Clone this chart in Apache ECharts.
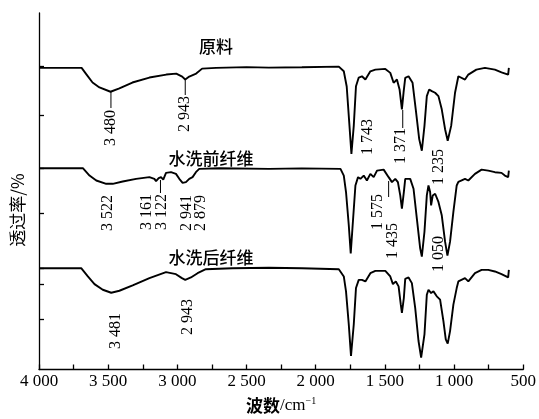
<!DOCTYPE html>
<html>
<head>
<meta charset="utf-8">
<script src="https://cdn.jsdelivr.net/npm/echarts@6/dist/echarts.min.js"></script>
<style>
html,body{margin:0;padding:0;background:#fff;}
#chart{width:539px;height:419px;}
</style>
</head>
<body>
<div id="chart"></div>
<script>
// ---- data (wavenumber cm-1, transmittance in arbitrary units, curves offset) ----
const curveNames = ['原料', '水洗前纤维', '水洗后纤维'];

const rawWn = [3995,3692,3656,3613,3563,3483,3419,3325,3202,3080,3008,2965,2943,2914,2864,2821,2720,2500,2338,2100,1833,1797,1776,1756,1742,1725,1709,1689,1666,1641,1605,1569,1497,1461,1437,1413,1394,1377,1365,1353,1329,1300,1277,1252,1233,1214,1197,1180,1161,1137,1113,1089,1065,1046,1021,993,969,957,921,897,839,777,705,657,609,604];
const rawT  = [303.7,303.7,297,289,284,279.7,283,289,294,297,298,295,292,295,298,303,303.7,304.5,304,304.3,305,300.3,285,245.3,217,245.3,285.3,294,295.3,292,300.3,302,302.7,298.7,288.7,292,282,262,279,293.7,295.3,288.7,262,232,220.3,245.3,275.3,282,280.3,278.7,275.3,262,242,230.3,245.3,278.7,295.3,293.7,292,297,302,303.7,302,299.3,297,303.7];

const preWn = [3995,3683,3635,3586,3514,3467,3395,3298,3202,3166,3154,3135,3118,3102,3082,3046,3010,2986,2962,2938,2914,2890,2866,2842,2698,2338,2100,1821,1797,1781,1761,1747,1733,1713,1694,1677,1653,1630,1605,1581,1557,1509,1473,1449,1425,1406,1389,1377,1363,1353,1317,1293,1269,1245,1233,1214,1197,1185,1173,1166,1154,1137,1113,1089,1065,1048,1029,1005,981,969,921,897,849,801,753,705,657,633,609,604];
const preT  = [202.7,202.7,195.3,190.3,187,187,189.3,192,193.7,192,189.7,192.7,193.7,191.3,198,198.7,197,192,188,188.7,192,193.7,198.7,202,202.7,202,202.5,202,195.3,178.7,145.3,117,145.3,185.3,193.7,192,195.3,190.3,197,193.7,200.3,201.3,193.7,188.7,192,188.7,175.3,162,178.7,192,192,182,152,122,113.7,138.7,175.3,185.3,178.7,165.3,175.3,177,168.7,155.3,128.7,114.7,128.7,158.7,185.3,189,192,190.3,197,201.3,200.3,198.7,198,195.3,193.7,200.3];

const postWn = [3995,3695,3647,3599,3539,3478,3419,3323,3202,3082,3010,2967,2943,2902,2854,2794,2604,2338,2100,1833,1797,1781,1761,1745,1725,1709,1689,1666,1641,1605,1569,1497,1461,1442,1421,1401,1385,1377,1363,1353,1329,1305,1281,1257,1238,1214,1197,1185,1166,1149,1125,1101,1077,1060,1046,1029,1005,981,969,921,897,849,801,753,705,657,609,604];
const postT  = [102,102,93.7,86,80.3,77.3,79.3,84.7,92,98,96,92,90.3,92.7,97,101,102,102.5,102,101,93.7,78.7,45.3,13.7,45.3,82,90.3,90.3,88.7,97,99.3,99.3,93.7,86,88.7,83.7,65.3,57,72,91.3,92.7,87,62,28.7,12,35.3,75.3,80.3,77,78.7,73.7,70.3,48.7,30.3,26,38.7,65.3,82,88.7,92,88.7,97,100.3,100.3,98.7,96,92.7,100.3];

// tick values
const xTicks = [4000, 3500, 3000, 2500, 2000, 1500, 1000, 500];
const yTickValues = [305, 256, 203, 157, 102, 86, 51];

// peak annotations
const peakText = ['3 480','2 943','1 743','1 371','1 235','3 522','3 161','3 122','2 941','2 879','1 575','1 435','1 050','3 481','2 943'];
const peakWn   = [3480, 2943, 1743, 1371, 1235, 3522, 3161, 3122, 2941, 2879, 1575, 1435, 1050, 3481, 2943];

// ---- layout (pixel) ----
const peakLayout = [ // [dx, centerY]
  [0,128],[0,114],[17,137],[-2,146],[17,167],
  [3,213],[-8,212],[1,212],[1,213],[7,213],[3,212],[-1,241],[-8,254],
  [5,331],[3,317]
];
const connectors = [ // [wn, y1, y2]
  [3480, 92, 108], [2943, 80, 95], [1371, 110, 128], [3122, 180, 193], [1473, 181, 197]
];
const titleLayout = [[216, 47], [211, 159], [211, 258]];

function fmt(v) {
  if (v >= 1000) return Math.floor(v / 1000) + ' ' + String(v % 1000).padStart(3, '0');
  return String(v);
}
function zip(a, b) { return a.map((v, i) => [v, b[i]]); }

const chart = echarts.init(document.getElementById('chart'));
const serif = '"Liberation Serif", "Times New Roman", serif';
const cjk = '"Noto Sans CJK SC", sans-serif';

const lineStyle = { color: '#000', width: 1.9 };
function mkSeries(wn, t) {
  return { type: 'line', data: zip(wn, t), showSymbol: false, symbol: 'none',
    lineStyle: lineStyle, animation: false, silent: true };
}

chart.setOption({
  animation: false,
  backgroundColor: '#fff',
  grid: { left: 39, right: 14, top: 13, bottom: 47 },
  xAxis: {
    type: 'value', inverse: true, min: 500, max: 4000, interval: 500,
    axisLine: { show: true, lineStyle: { color: '#000', width: 1.3 } },
    axisTick: { show: true, inside: true, length: 5, lineStyle: { color: '#000', width: 1.3 } },
    minorTick: { show: true, splitNumber: 2, length: 5, lineStyle: { color: '#000', width: 1.3 } },
    splitLine: { show: false },
    axisLabel: { color: '#000', fontFamily: serif, fontSize: 17, margin: 4, formatter: fmt },
    name: '{a|波数}{b|/cm}{c|−1}', nameLocation: 'middle', nameGap: 27,
    nameTextStyle: {
      rich: {
        a: { fontFamily: cjk, fontSize: 17, fontWeight: 'bold', color: '#000' },
        b: { fontFamily: serif, fontSize: 17, color: '#000' },
        c: { fontFamily: serif, fontSize: 10, color: '#000', verticalAlign: 'top', padding: [0, 0, 8, 0] }
      }
    }
  },
  yAxis: {
    type: 'value', min: 0, max: 359,
    axisLine: { show: true, lineStyle: { color: '#000', width: 1.3 } },
    axisTick: { show: true, inside: true, length: 5, customValues: yTickValues, lineStyle: { color: '#000', width: 1.3 } },
    axisLabel: { show: false },
    splitLine: { show: false }
  },
  series: [mkSeries(rawWn, rawT), mkSeries(preWn, preT), mkSeries(postWn, postT)]
});

const graphics = [];
curveNames.forEach((n, i) => {
  graphics.push({ type: 'text', x: titleLayout[i][0], y: titleLayout[i][1], silent: true,
    style: { text: n, fill: '#000', font: '500 17px ' + cjk, textAlign: 'center', textVerticalAlign: 'middle' } });
});
peakText.forEach((t, i) => {
  const px = chart.convertToPixel({ xAxisIndex: 0 }, peakWn[i]) + peakLayout[i][0];
  graphics.push({ type: 'text', x: px, y: peakLayout[i][1], rotation: Math.PI / 2, silent: true,
    style: { text: t, fill: '#000', font: '16px ' + serif, textAlign: 'center', textVerticalAlign: 'middle' } });
});
connectors.forEach(c => {
  const px = chart.convertToPixel({ xAxisIndex: 0 }, c[0]);
  graphics.push({ type: 'line', silent: true, shape: { x1: px, y1: c[1], x2: px, y2: c[2] },
    style: { stroke: '#000', lineWidth: 1 } });
});
graphics.push({ type: 'text', x: 18, y: 210, rotation: Math.PI / 2, silent: true,
  style: { text: '透过率/%', fill: '#000', font: '17px ' + cjk, textAlign: 'center', textVerticalAlign: 'middle' } });

chart.setOption({ graphic: graphics });
</script>
</body>
</html>
